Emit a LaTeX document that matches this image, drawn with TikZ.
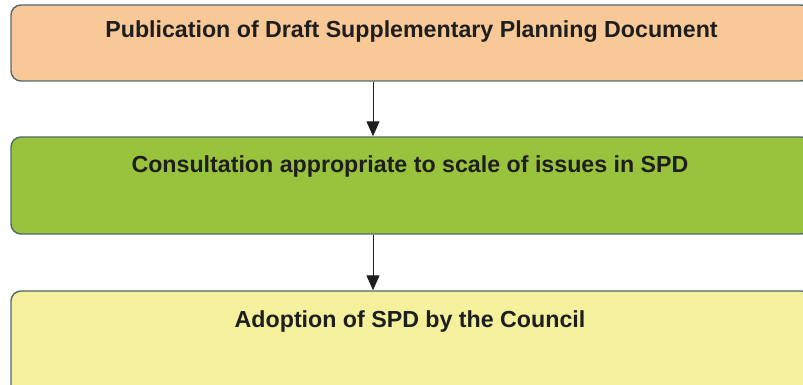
\documentclass[tikz,border=0pt]{standalone}
\usepackage{fontspec}
\setmainfont{Liberation Sans}
\usetikzlibrary{arrows.meta}
\definecolor{peach}{HTML}{F9C897}
\definecolor{leaf}{HTML}{99C33C}
\definecolor{butter}{HTML}{F4F09B}
\definecolor{edge}{HTML}{4F6A6A}
\definecolor{ink}{HTML}{1E1E1E}
\tikzset{
  box/.style={draw=edge, line width=1.4pt, rounded corners=10pt, rectangle, inner sep=0pt},
  lbl/.style={anchor=base, text=ink, font=\fontsize{23.2}{27}\selectfont\bfseries, inner sep=0pt},
  arr/.style={draw=ink, line width=1pt, -{Triangle[width=13pt,length=15pt]}}
}
\begin{document}
\begin{tikzpicture}[x=1pt,y=1pt]
\useasboundingbox (0,0) rectangle (803,-385);
\clip (0,0) rectangle (803,-385);
\node[box, fill=peach, minimum width=800pt, minimum height=76pt] (a) at (411,-43) {};
\node[box, fill=leaf, minimum width=800pt, minimum height=97pt] (b) at (411,-185.5) {};
\node[box, fill=butter, minimum width=800pt, minimum height=110pt] (c) at (411,-346) {};
\node[lbl] (ta) at (411.5,-38) {Publication of Draft Supplementary Planning Document};
\node[lbl] (tb) at (410,-172) {Consultation appropriate to scale of issues in SPD};
\node[lbl] (tc) at (410,-327) {Adoption of SPD by the Council};
\coordinate (ax) at (373,0);
\draw[arr] (a.south -| ax) -- (b.north -| ax);
\draw[arr] (b.south -| ax) -- (c.north -| ax);
\end{tikzpicture}
\end{document}
